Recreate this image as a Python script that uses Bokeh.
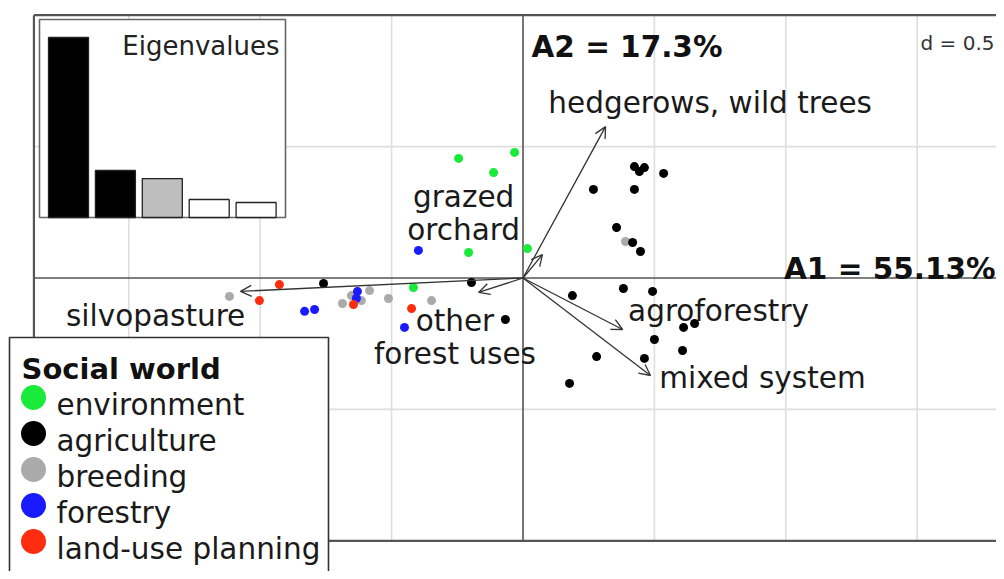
from bokeh.plotting import figure
from bokeh.models import Range1d, ColumnDataSource, Arrow, OpenHead
from bokeh.core.properties import value
from bokeh.embed import file_html
from bokeh.resources import INLINE

# ---------------- data ----------------
social_worlds = ["environment", "agriculture", "breeding", "forestry", "land-use planning"]
world_colors = ["#1aeb3a", "#000000", "#aaaaaa", "#1a1aff", "#ff2d10"]

env_x = [-0.245, -0.032, -0.112, -0.207, 0.017, -0.417]
env_y = [0.455, 0.478, 0.401, 0.097, 0.112, -0.036]

agr_x = [-0.759, -0.196, -0.067, 0.424, 0.443, 0.462, 0.535, 0.268, 0.424, 0.356, 0.417,
         0.447, 0.188, 0.382, 0.493, 0.611, 0.653, 0.500, 0.607, 0.280, 0.462, 0.177]
agr_y = [-0.021, -0.017, -0.158, 0.424, 0.405, 0.420, 0.398, 0.337, 0.337, 0.192, 0.135,
         0.101, -0.067, -0.040, -0.051, -0.188, -0.173, -0.234, -0.276, -0.299, -0.306, -0.401]

bre_x = [-1.117, -0.687, -0.653, -0.615, -0.584, -0.512, -0.348, 0.390]
bre_y = [-0.070, -0.097, -0.067, -0.086, -0.048, -0.078, -0.086, 0.139]

for_x = [-0.398, -0.831, -0.793, -0.630, -0.634, -0.451]
for_y = [0.105, -0.127, -0.120, -0.051, -0.078, -0.188]

lup_x = [-0.927, -1.003, -0.645, -0.424]
lup_y = [-0.025, -0.086, -0.101, -0.116]

variables = ["silvopasture", "other\nforest uses", "grazed\norchard",
             "hedgerows, wild trees", "agroforestry", "mixed system"]
var_x = [-1.075, -0.169, 0.074, 0.314, 0.379, 0.485]
var_y = [-0.051, -0.055, 0.089, 0.576, -0.196, -0.371]

eig_pct = [55.13, 17.3, 15.0, 9.05, 8.2]
grid_step = 0.5

# ---------------- layout / style (positions) ----------------
label_x = [-1.398, -0.259, -0.226, 0.712, 0.744, 0.911]
label_y = [-0.146, -0.226, 0.244, 0.664, -0.124, -0.379]

FONT = value("DejaVu Sans")

p = figure(width=996, height=571, output_backend="svg", toolbar_location=None,
           x_range=Range1d(-1.9882, 1.8017), y_range=Range1d(-1.1168, 1.0559),
           x_axis_type=None, y_axis_type=None, min_border=0)
p.grid.visible = False
p.outline_line_color = None
p.background_fill_color = "white"
p.border_fill_color = "white"
p.extra_x_ranges = {"px": Range1d(0, 996), "eigx": Range1d(-0.4499, 20.787)}
p.extra_y_ranges = {"px": Range1d(571, 0), "eigy": Range1d(-96.75, 65.65)}

box_left, box_bottom, box_top, box_right = -1.861, -1.0, 1.0, 2.0

# grid
gx = [k * grid_step for k in (-3, -2, -1, 1, 2, 3)]
gy = [k * grid_step for k in (-1, 1)]
p.segment(x0=gx, y0=[box_bottom] * len(gx), x1=gx, y1=[box_top] * len(gx),
          line_color="#dedede", line_width=1.6)
p.segment(x0=[box_left] * len(gy), y0=gy, x1=[box_right] * len(gy), y1=gy,
          line_color="#dedede", line_width=1.6)

# box
p.segment(x0=[box_left, box_left, box_left], y0=[box_top, box_bottom, box_bottom],
          x1=[box_right, box_right, box_left], y1=[box_top, box_bottom, box_top],
          line_color="#555555", line_width=2.2)
# axes
p.segment(x0=[box_left, 0], y0=[0, box_bottom], x1=[box_right, 0], y1=[0, box_top],
          line_color="#555555", line_width=1.6)

# labels of axes
p.text(x=[531], y=[46], text=["A2 = %.1f%%" % eig_pct[1]], x_range_name="px", y_range_name="px",
       text_font=FONT, text_font_style="bold", text_font_size=value("29.5px"),
       text_color="#111111", text_baseline="alphabetic", text_align="left")
p.text(x=[995], y=[268], text=["A1 = %.2f%%" % eig_pct[0]], x_range_name="px", y_range_name="px",
       text_font=FONT, text_font_style="bold", text_font_size=value("29.5px"),
       text_color="#111111", text_baseline="alphabetic", text_align="right")
p.text(x=[994], y=[42], text=["d = %s" % grid_step], x_range_name="px", y_range_name="px",
       text_font=FONT, text_font_size=value("20px"),
       text_color="#333333", text_baseline="alphabetic", text_align="right")

# eigenvalue inset
p.quad(left=[39], right=[285], top=[19], bottom=[217], x_range_name="px", y_range_name="px",
       fill_color="white", line_color="#666666", line_width=1.6)
eig_colors = ["black", "black", "#bebebe", "white", "white"]
p.vbar(x=list(range(1, len(eig_pct) + 1)), top=eig_pct, bottom=3.93, width=0.853,
       x_range_name="eigx", y_range_name="eigy",
       fill_color=eig_colors, line_color="#222222", line_width=1.3)
p.text(x=[279], y=[45], text=["Eigenvalues"], x_range_name="px", y_range_name="px",
       text_font=FONT, text_font_size=value("26px"), text_color="#222222",
       text_baseline="alphabetic", text_align="right")

# arrows
asrc = ColumnDataSource(dict(x0=[0.0] * len(var_x), y0=[0.0] * len(var_y), x1=var_x, y1=var_y))
p.add_layout(Arrow(end=OpenHead(size=11, line_color="#333333", line_width=1.3),
                   x_start="x0", y_start="y0", x_end="x1", y_end="y1", source=asrc,
                   line_color="#333333", line_width=1.3))

# variable labels
p.text(x=label_x, y=label_y, text=variables, text_font=FONT, text_font_size=value("29.5px"),
       text_color="#1a1a1a", text_align="center", text_baseline="middle", text_line_height=0.97)

# points
order = [2, 0, 3, 4, 1]
groups = [(env_x, env_y), (agr_x, agr_y), (bre_x, bre_y), (for_x, for_y), (lup_x, lup_y)]
for i in order:
    p.scatter(x=groups[i][0], y=groups[i][1], size=9, fill_color=world_colors[i], line_color=None)

# legend (manual)
p.quad(left=[9], right=[328], top=[337], bottom=[600], x_range_name="px", y_range_name="px",
       fill_color="white", line_color="#333333", line_width=1.6)
p.text(x=[21], y=[368], text=["Social world"], x_range_name="px", y_range_name="px",
       text_font=FONT, text_font_style="bold", text_font_size=value("29px"),
       text_color="#111111", text_baseline="alphabetic", text_align="left")
leg_text_y = [404, 440, 476, 512, 548]
leg_marker_y = [397, 433, 469, 505, 541]
p.scatter(x=[33] * len(social_worlds), y=leg_marker_y, size=25, fill_color=world_colors,
          line_color=None, x_range_name="px", y_range_name="px")
p.text(x=[56] * len(social_worlds), y=leg_text_y, text=social_worlds,
       x_range_name="px", y_range_name="px", text_font=FONT, text_font_size=value("29.5px"),
       text_color="#1a1a1a", text_baseline="alphabetic", text_align="left")

open("out.html", "w").write(file_html(p, INLINE))
